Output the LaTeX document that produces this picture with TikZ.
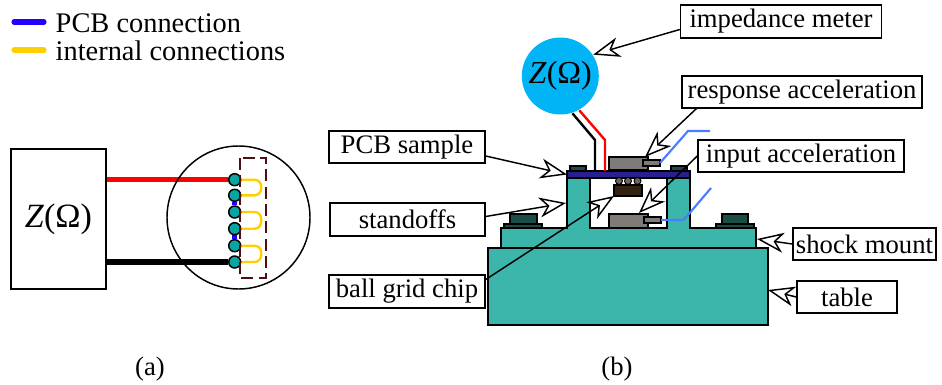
\documentclass[tikz,border=0pt]{standalone}
\usepackage{fontspec}
\setmainfont{Liberation Serif}
\usetikzlibrary{
  arrows.meta,
  backgrounds,  % Predefined layer named "background"
  calc,         % Calculations $...$
  fit,          % Parts given by their two corners
}
\def\mypx{0.75pt}
\definecolor{myteal}{HTML}{3CB6AA}
\definecolor{mypad}{HTML}{0AA5A0}
\definecolor{myscrew}{HTML}{1B4D47}
\definecolor{mygray}{HTML}{7F7B78}
\definecolor{mycable}{HTML}{4C7CFF}
\definecolor{myblue}{HTML}{2000FF}
\definecolor{myyellow}{HTML}{FFD000}
\definecolor{myred}{HTML}{FF0000}
\definecolor{mymaroon}{HTML}{4D0F14}
\definecolor{mysky}{HTML}{00B4F5}
\definecolor{mypcb}{HTML}{2A1F8F}
\definecolor{mychip}{HTML}{33220F}
\definecolor{myball}{HTML}{6E655C}
\tikzset{
  x=\mypx,
  y=-\mypx,
  my label/.style 2 args={
    draw,
    fill=white,
    inner sep=0mm,
    font=\fontsize{20}{22}\selectfont,
    minimum width=#1*\mypx,
    minimum height=#2*\mypx
  },
  my plain/.style={
    inner sep=0mm,
    font=\fontsize{20}{22}\selectfont
  },
  my legend/.style={
    anchor=west,
    inner sep=0mm,
    font=\fontsize{21.3}{23}\selectfont
  },
  my part/.style={
    draw,
    inner sep=0mm,
    outer sep=0mm
  },
  my pad/.style={
    circle,
    draw,
    fill=mypad,
    inner sep=0mm,
    minimum size=12*\mypx
  },
  my ball/.style={
    circle,
    draw,
    fill=myball,
    inner sep=0mm,
    line width=0.7pt,
    minimum size=7*\mypx
  },
  big arrow/.style={
    -{Stealth[length=20pt,width=15pt,inset=6pt,fill=white]}
  },
  thick wire/.style={
    line width=3.9pt
  },
  int conn/.style={
    myyellow,
    line width=1.8pt,
    rounded corners=5pt
  },
  pcb conn/.style={
    myblue,
    line width=3.5pt
  },
  thin wire/.style={
    line width=1.8pt
  },
  cable/.style={
    mycable,
    line width=1.6pt
  }
}
\begin{document}
\begin{tikzpicture}[line width=1.1pt]
\useasboundingbox (0,0) rectangle (942,385);
% legend
\node[my legend] (legendpcb) at (55,23) {PCB connection};
\node[my legend] (legendint) at (55,51) {internal connections};
\draw[myblue,line width=3.8pt,line cap=round] (14,22) -- (44,22);
\draw[myyellow,line width=3.8pt,line cap=round] (14,50) -- (44,50);
% part (a)
\node[draw,inner sep=0mm,minimum width=95*\mypx,minimum height=140*\mypx,
  font=\fontsize{25.5}{27}\selectfont] (zbox) at (58.5,219) {\textit{Z}(Ω)};
\node[draw,circle,inner sep=0mm,minimum size=143*\mypx] (lens) at (238.5,217.5) {};
\foreach \n/\y in {1/179.7,2/195.3,3/212,4/228.7,5/245.7,6/262}
  \node[my pad] (pad\n) at (234.7,\y) {};
\begin{scope}[on background layer]
  \draw[thick wire,myred] (zbox.east |- pad1) -- (pad1);
  \draw[thick wire] (zbox.east |- pad6) -- (pad6);
  \draw[pcb conn] (pad2) -- (pad3);
  \draw[pcb conn] (pad4) -- (pad5);
  \draw[int conn] (pad1) -- ++(26.5,0) |- (pad2);
  \draw[int conn] (pad3) -- ++(26.5,0) |- (pad4);
  \draw[int conn] (pad5) -- ++(26.5,0) |- (pad6);
\end{scope}
\draw[mymaroon,dashed,dash pattern=on 9pt off 4pt] (240,158) rectangle (266,278);
\node[my plain] (capa) at (150,369) {(a)};
% part (b)
\node[fill=mysky,circle,inner sep=0mm,minimum size=77*\mypx,
  font=\fontsize{24}{26}\selectfont] (meter) at (560.3,76) {\textit{Z}(Ω)};
\node[fit={(567,171)(690,178)},my part,fill=mypcb] (pcb) {};
\draw[thin wire] (meter.-72) -- (595,140) -- (595,140 |- pcb.north);
\draw[thin wire,myred] (meter.-61) -- (605,140) -- (605,140 |- pcb.north);
\draw[fill=myteal] (501,248) -- (501,228) -- (567,228) -- (567,178) -- (590,178)
  -- (590,228) -- (667,228) -- (667,178) -- (690,178) -- (690,228) -- (756,228)
  -- (756,248) -- cycle;
\node[fit={(488,248)(768,325)},my part,fill=myteal] (tbl) {};
\coordinate (standoffend) at (566,203);
\coordinate (mountend) at (757,239);
% screws
\foreach \a/\b in {570/586,671/687}
  \draw[fill=myscrew] (\a,166) rectangle (\b,171);
\foreach \a/\b/\c/\d in {510/537/504/542,722/748/716/754}{
  \draw[fill=myscrew] (\a,214) rectangle (\b,224);
  \draw[fill=myscrew] (\c,224) rectangle (\d,228);
}
% accelerometers
\node[fit={(609,157)(648,170)},my part,fill=mygray] (sensorup) {};
\node[fit={(643,160)(660,166)},my part,fill=mygray] (plugup) {};
\node[fit={(609,214)(648,227.5)},my part,fill=mygray] (sensorlow) {};
\node[fit={(644,217)(661,223)},my part,fill=mygray] (pluglow) {};
\coordinate (cableup) at (710,131);
\coordinate (cablelow) at (711,188);
\draw[cable] (plugup.east) -- (688,131) -- (cableup);
\draw[cable] (pluglow.east) -- (683,220) -- (688,215) -- (cablelow);
% chip
\node[fit={(614,185)(642,196)},my part,fill=mychip] (chip) {};
\foreach \n/\x in {1/619,2/628,3/637.5}
  \node[my ball] (ball\n) at (\x,181) {};
% labels
\node[my label={201}{33}] (meterlbl) at (781,21.5) {impedance meter};
\node[my label={240}{32}] (resplbl) at (802,92) {response acceleration};
\node[my label={206}{32}] (inplbl) at (801,156) {input acceleration};
\node[my label={156}{32}] (pcblbl) at (407,147) {PCB sample};
\node[my label={155}{33}] (stdlbl) at (407.5,219.5) {standoffs};
\node[my label={156}{33}] (balllbl) at (407,291.5) {ball grid chip};
\node[my label={143}{32}] (mountlbl) at (864.5,244) {shock mount};
\node[my label={100}{32}] (tbllbl) at (847,297) {table};
\node[my plain] (capb) at (617,369) {(b)};
\draw[big arrow] ($(meterlbl.west)+(0,8)$) -- (meter.33);
\draw[big arrow] ($(resplbl.south west)+(15,0)$) -- ($(sensorup.north east)+(-3,0)$);
\draw[big arrow] (inplbl.west) -- ($(sensorlow.north east)+(-9,-1)$);
\draw[big arrow] ($(pcblbl.east)+(0,9)$) -- (pcb.west);
\draw[big arrow] ($(stdlbl.east)+(0,-3)$) -- (standoffend);
\draw[big arrow] ($(balllbl.east)+(0,-12)$) -- (chip.south west);
\draw[big arrow] (mountlbl.west) -- (mountend);
\draw[big arrow] (tbllbl.west) -- ($(tbl.east)+(0,3.5)$);
\end{tikzpicture}
\end{document}
